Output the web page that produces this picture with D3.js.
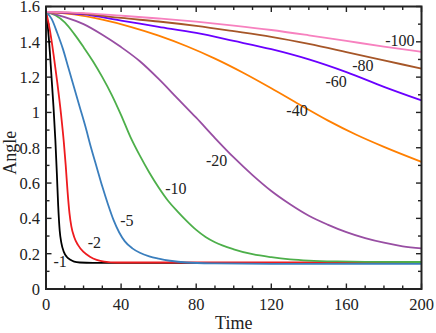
<!DOCTYPE html>
<html>
<head>
<meta charset="utf-8">
<script src="https://cdn.jsdelivr.net/npm/d3@7"></script>
<style>
body { margin: 0; background: #fff; }
svg { display: block; }
</style>
</head>
<body>
<script>
// tick values
var timeTicks = [0, 40, 80, 120, 160, 200];
var angleTicks = [0, 0.2, 0.4, 0.6, 0.8, 1, 1.2, 1.4, 1.6];

// series: [time, angle]
var seriesNames = ['-1', '-2', '-5', '-10', '-20', '-40', '-60', '-80', '-100'];
var seriesColors = ['#000000', '#ee1b1f', '#3a7ebd', '#4daf4a', '#984ea3', '#ff7f00', '#6a00ff', '#a65628', '#f781bf'];

var s1 = [[0,1.57],[1,1.48],[2,1.35],[3,1.19],[4,1.03],[5,0.84],[5.8,0.65],[6.5,0.47],[7.3,0.33],[8.2,0.26],[9.5,0.21],[11,0.183],[13,0.165],[15,0.155],[18,0.15],[25,0.148],[200,0.148]];
var s2 = [[0,1.57],[2,1.47],[4,1.33],[6,1.17],[8,0.99],[9.5,0.83],[10.5,0.7],[11.5,0.55],[12.5,0.43],[13.5,0.355],[15,0.295],[17,0.25],[20,0.21],[23.4,0.183],[27,0.165],[31,0.155],[38,0.15],[200,0.15]];
var s5 = [[0,1.57],[3,1.53],[6,1.45],[9,1.36],[12,1.25],[15,1.14],[18,1.03],[21,0.92],[24,0.8],[27,0.69],[30,0.58],[33,0.48],[36,0.39],[39,0.32],[42,0.27],[46,0.23],[50,0.205],[55,0.185],[60,0.172],[66,0.16],[75,0.15],[90,0.145],[120,0.142],[200,0.142]];
var s10 = [[0,1.57],[5,1.55],[10,1.51],[15,1.445],[20,1.37],[25,1.29],[30,1.2],[35,1.1],[40,0.985],[45,0.86],[50,0.755],[55,0.66],[60,0.575],[65,0.5],[70,0.44],[75,0.385],[80,0.335],[85,0.295],[90,0.265],[100,0.225],[110,0.197],[120,0.18],[130,0.168],[140,0.161],[155,0.156],[170,0.154],[200,0.153]];
var s20 = [[0,1.57],[10,1.54],[20,1.5],[30,1.44],[40,1.37],[50,1.29],[60,1.19],[70,1.08],[80,0.97],[90,0.855],[100,0.745],[110,0.645],[120,0.555],[130,0.48],[140,0.415],[150,0.365],[160,0.322],[170,0.288],[180,0.262],[190,0.242],[200,0.23]];
var s40 = [[0,1.57],[15,1.555],[30,1.525],[45,1.485],[60,1.435],[75,1.375],[90,1.305],[105,1.225],[120,1.137],[135,1.045],[150,0.955],[165,0.875],[180,0.805],[200,0.72]];
var s60 = [[0,1.57],[20,1.555],[40,1.52],[60,1.485],[80,1.45],[100,1.405],[120,1.358],[140,1.3],[160,1.228],[180,1.145],[200,1.068]];
var s80 = [[0,1.57],[20,1.56],[40,1.535],[60,1.515],[80,1.49],[100,1.46],[120,1.428],[140,1.388],[160,1.342],[180,1.295],[200,1.248]];
var s100 = [[0,1.57],[20,1.563],[40,1.548],[60,1.532],[80,1.514],[100,1.492],[120,1.467],[140,1.437],[160,1.405],[180,1.373],[200,1.343]];
var seriesData = [s1, s2, s5, s10, s20, s40, s60, s80, s100];

// where each curve's label sits, in data units
var labelAt = [[7.5,0.155],[25.8,0.262],[43.1,0.391],[69.2,0.572],[90.9,0.731],[133.7,1.014],[154.5,1.174],[168.8,1.269],[188.5,1.41]];

var serif = '"Liberation Serif", "Times New Roman", Times, serif';

var W = 436, H = 333
  , margin = {top: 6.5, right: 14.5, bottom: 44, left: 46}
  , width = W - margin.left - margin.right
  , height = H - margin.top - margin.bottom;

var svgm = d3.select('body').append('svg').attr('width', W).attr('height', H);
var svg = svgm.append('g').attr('transform', `translate(${margin.left},${margin.top})`);

var x = d3.scaleLinear().domain([0, 200]).range([0, width])
  , y = d3.scaleLinear().domain([0, 1.6]).range([height, 0]);

var fmt = function(v) { return String(+v.toFixed(1)); };
var minorX = d3.range(0, 201, 10)
  , minorY = d3.range(0, 17).map(function(i) { return i / 10; });

// inward ticks on all four sides
var ticks = svg.append('g').attr('stroke', '#222').attr('stroke-width', 1.4);
minorX.forEach(function(t) {
    var len = (t % 40 === 0) ? 5.5 : 3.5;
    ticks.append('line').attr('x1', x(t)).attr('x2', x(t)).attr('y1', height).attr('y2', height - len);
    ticks.append('line').attr('x1', x(t)).attr('x2', x(t)).attr('y1', 0).attr('y2', len);
});
minorY.forEach(function(v, i) {
    var len = (i % 2 === 0) ? 5.5 : 3.5;
    ticks.append('line').attr('x1', 0).attr('x2', len).attr('y1', y(v)).attr('y2', y(v));
    ticks.append('line').attr('x1', width).attr('x2', width - len).attr('y1', y(v)).attr('y2', y(v));
});

var line = d3.line().x(function(d) { return x(d[0]); }).y(function(d) { return y(d[1]); }).curve(d3.curveMonotoneX);

svg.append('g').selectAll('path').data(seriesData).enter().append('path')
    .attr('fill', 'none')
    .attr('stroke', function(d, i) { return seriesColors[i]; })
    .attr('stroke-width', 1.8)
    .attr('d', line);

// frame
svg.append('rect').attr('width', width).attr('height', height).attr('fill', 'none').attr('stroke', '#222').attr('stroke-width', 2);

// tick labels
svg.append('g').selectAll('text').data(timeTicks).enter().append('text')
    .attr('x', function(d) { return x(d); }).attr('y', height + 21)
    .attr('text-anchor', 'middle').attr('font-family', serif).attr('font-size', 16.5).attr('fill', '#222')
    .text(function(d) { return d; });
svg.append('g').selectAll('text').data(angleTicks).enter().append('text')
    .attr('x', -6).attr('y', function(d) { return y(d); }).attr('dy', '0.36em')
    .attr('text-anchor', 'end').attr('font-family', serif).attr('font-size', 16.5).attr('fill', '#222')
    .text(fmt);

// axis titles
svg.append('text').attr('x', width / 2).attr('y', height + 40)
    .attr('text-anchor', 'middle').attr('font-family', serif).attr('font-size', 18).attr('fill', '#222').text('Time');
svg.append('text').attr('transform', `translate(${-30},${height / 2 + 5}) rotate(-90)`)
    .attr('text-anchor', 'middle').attr('font-family', serif).attr('font-size', 18).attr('fill', '#222').text('Angle');

// curve labels
svg.append('g').selectAll('text').data(seriesNames).enter().append('text')
    .attr('x', function(d, i) { return x(labelAt[i][0]); })
    .attr('y', function(d, i) { return y(labelAt[i][1]); })
    .attr('dy', '0.35em').attr('text-anchor', 'middle')
    .attr('font-family', serif).attr('font-size', 16).attr('fill', '#222')
    .text(function(d) { return d; });
</script>
</body>
</html>
